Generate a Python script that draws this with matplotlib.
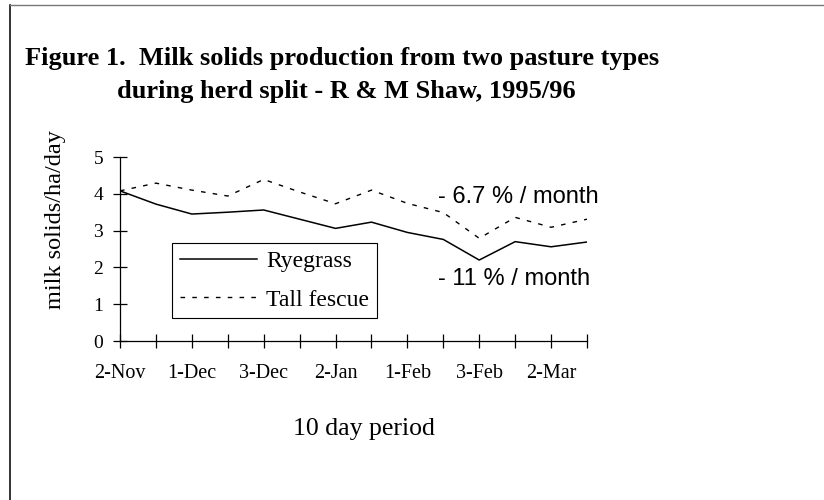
import numpy as np
import matplotlib
matplotlib.use('Agg')
import matplotlib.pyplot as plt
from matplotlib.lines import Line2D

# 10 day periods, Nov 1995 - Mar 1996
periods = ['2-Nov', '3-Nov', '1-Dec', '2-Dec', '3-Dec', '1-Jan', '2-Jan',
           '3-Jan', '1-Feb', '2-Feb', '3-Feb', '1-Mar', '2-Mar', '3-Mar']
ryegrass = [4.08, 3.72, 3.45, 3.50, 3.56, 3.31, 3.06,
            3.23, 2.95, 2.76, 2.20, 2.70, 2.56, 2.69]
tall_fescue = [4.08, 4.29, 4.10, 3.94, 4.39, 4.05, 3.73,
               4.10, 3.74, 3.49, 2.79, 3.36, 3.09, 3.31]
rates = ['- 6.7 % / month', '- 11 % / month']

serif = 'Liberation Serif'
sans = 'Liberation Sans'

W, H = 824, 500
fig = plt.figure(figsize=(W / 100, H / 100), dpi=100)
ax = fig.add_axes([120 / W, 1 - 341 / H, 467 / W, 184 / H])

x = np.arange(len(periods))
ax.plot(x, ryegrass, color='black', lw=1.1, label='Ryegrass')
ax.plot(x, tall_fescue, color='black', lw=1.0, linestyle=(0, (3.3, 5.2)),
        label='Tall fescue')

ax.set_xlim(0, len(periods) - 1)
ax.set_ylim(0, 5)
ax.set_yticks(range(6))
ax.set_xticks(x)
ax.set_xticklabels([p if i % 2 == 0 else '' for i, p in enumerate(periods)],
                   fontfamily=serif, fontsize=14.5)
ax.set_yticklabels([str(v) for v in range(6)], fontfamily=serif, fontsize=14)
ax.tick_params(axis='both', direction='inout', length=9.4, width=0.9,
               color='black')
ax.tick_params(axis='x', pad=11.5)
ax.tick_params(axis='y', pad=7.5)

for s in ['top', 'right']:
    ax.spines[s].set_visible(False)
for s in ['left', 'bottom']:
    ax.spines[s].set_linewidth(0.9)

# slope notes
ax.text(8.85, 3.74, rates[0], fontfamily=sans, fontsize=17, va='baseline')
ax.text(8.85, 1.52, rates[1], fontfamily=sans, fontsize=17, va='baseline')

leg = ax.legend(loc='upper left', bbox_to_anchor=(172 / W, 1 - 243 / H),
                bbox_transform=fig.transFigure, borderaxespad=0,
                fancybox=False, edgecolor='black', framealpha=1,
                handlelength=3.26, handletextpad=0.4, borderpad=0.33,
                labelspacing=0.71, prop={'family': serif, 'size': 17})
leg.get_frame().set_linewidth(0.8)

fig.text(25 / W, 1 - 65 / H,
         'Figure 1.  Milk solids production from two pasture types',
         fontfamily=serif, fontweight='bold', fontsize=19, va='baseline')
fig.text(117 / W, 1 - 98 / H, 'during herd split - R & M Shaw, 1995/96',
         fontfamily=serif, fontweight='bold', fontsize=19, va='baseline')
fig.text(55 / W, 1 - 220 / H, 'milk solids/ha/day', fontfamily=serif,
         fontsize=17.5, rotation=90, ha='center', va='center')
fig.text(364 / W, 1 - 435.5 / H, '10 day period', fontfamily=serif,
         fontsize=18.5, ha='center', va='baseline')

# outer frame (left and top edges only)
fig.add_artist(Line2D([10 / W, 10 / W], [0, 1 - 5 / H], color='#111111',
                      lw=1.2, transform=fig.transFigure))
fig.add_artist(Line2D([10 / W, 1], [1 - 5 / H, 1 - 5 / H], color='#777777',
                      lw=1.0, transform=fig.transFigure))

fig.savefig('out.png', dpi=100)
